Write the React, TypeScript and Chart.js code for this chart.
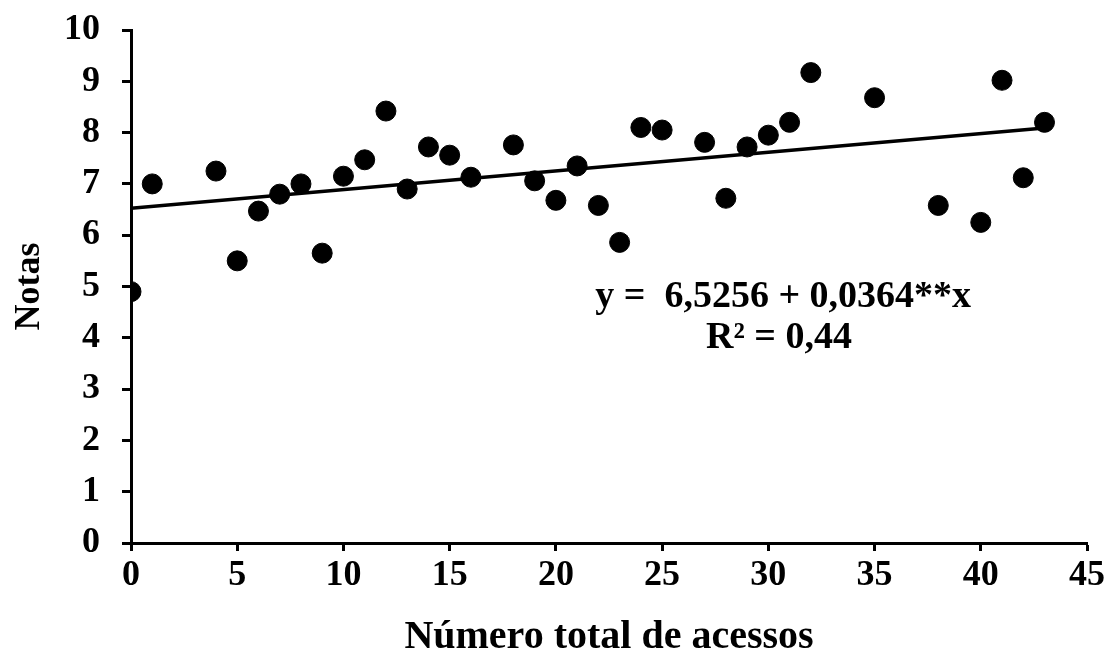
import React, { useEffect, useRef } from "react";
import { Chart, registerables } from "chart.js";

Chart.register(...registerables);

const accessCounts = [0, 1, 4, 5, 6, 7, 8, 9, 10, 11, 12, 13, 14, 15, 16, 18, 19, 20, 21, 22, 23, 24, 25, 27, 28, 29, 30, 31, 32, 35, 38, 40, 41, 42, 43];
const grades = [4.9, 7.0, 7.25, 5.5, 6.47, 6.8, 7.0, 5.65, 7.15, 7.47, 8.42, 6.9, 7.72, 7.56, 7.13, 7.76, 7.06, 6.68, 7.35, 6.58, 5.86, 8.1, 8.05, 7.81, 6.72, 7.72, 7.95, 8.2, 9.17, 8.68, 6.58, 6.25, 9.02, 7.12, 8.2];
const trendX = [0, 43];
const trendY = [6.5256, 8.0908];
const equationText = "y =  6,5256 + 0,0364**x";
const r2Text = "R² = 0,44";
const xTitle = "Número total de acessos";
const yTitle = "Notas";

const FONT = "'Liberation Serif', 'Times New Roman', serif";

const textPlugin = {
  id: "eqText",
  afterDatasetsDraw(chart: any) {
    const { ctx, scales } = chart;
    const xs = scales.x;
    const ys = scales.y;
    ctx.save();
    ctx.fillStyle = "#000";
    ctx.font = `bold 38px ${FONT}`;
    ctx.textAlign = "center";
    ctx.textBaseline = "middle";
    ctx.fillText(equationText, xs.getPixelForValue(30.7), ys.getPixelForValue(4.8));
    ctx.fillText(r2Text, xs.getPixelForValue(30.5), ys.getPixelForValue(3.99));
    ctx.restore();
  },
};

export default function App() {
  const ref = useRef<HTMLCanvasElement>(null);
  useEffect(() => {
    if (!ref.current) return;
    const chart = new Chart(ref.current, {
      type: "scatter",
      data: {
        datasets: [
          {
            label: "Notas",
            data: accessCounts.map((x, i) => ({ x, y: grades[i] })),
            backgroundColor: "#000",
            borderColor: "#000",
            pointRadius: 10,
            pointHoverRadius: 10,
            order: 2,
          },
          {
            label: "Tendência",
            type: "line",
            data: trendX.map((x, i) => ({ x, y: trendY[i] })),
            borderColor: "#000",
            borderWidth: 3.5,
            pointRadius: 0,
            fill: false,
            order: 1,
          } as any,
        ],
      },
      options: {
        animation: false,
        responsive: false,
        maintainAspectRatio: false,
        layout: { padding: { top: 30, right: 23, left: 0, bottom: 0 } },
        plugins: {
          legend: { display: false },
          tooltip: { enabled: false },
        },
        scales: {
          x: {
            type: "linear",
            min: 0,
            max: 45,
            ticks: {
              stepSize: 5,
              color: "#000",
              font: { family: FONT, size: 36, weight: "bold" },
              padding: 3,
            },
            grid: {
              drawOnChartArea: false,
              drawTicks: true,
              tickLength: 8,
              tickWidth: 3,
              color: "#000",
            },
            border: { display: true, color: "#000", width: 3 },
            title: {
              display: true,
              text: xTitle,
              color: "#000",
              font: { family: FONT, size: 40, weight: "bold" },
              padding: { top: 0, bottom: 0 },
            },
            afterFit: (s: any) => {
              s.height = 119;
            },
          },
          y: {
            type: "linear",
            min: 0,
            max: 10,
            ticks: {
              stepSize: 1,
              color: "#000",
              font: { family: FONT, size: 36, weight: "bold" },
              padding: 22,
            },
            grid: {
              drawOnChartArea: false,
              drawTicks: true,
              tickLength: 9,
              tickWidth: 3,
              color: "#000",
            },
            border: { display: true, color: "#000", width: 3 },
            title: {
              display: true,
              text: yTitle,
              color: "#000",
              font: { family: FONT, size: 36, weight: "bold" },
              padding: { top: 8, bottom: 0 },
            },
            afterFit: (s: any) => {
              s.width = 131;
              s.paddingTop = 0;
              s.paddingBottom = 0;
            },
          },
        },
      },
      plugins: [textPlugin],
    });
    return () => chart.destroy();
  }, []);
  return (
    <div style={{ position: "fixed", left: 0, top: 0, width: 1110, height: 662, background: "#fff" }}>
      <canvas ref={ref} width={1110} height={662} style={{ width: 1110, height: 662, display: "block" }} />
    </div>
  );
}
